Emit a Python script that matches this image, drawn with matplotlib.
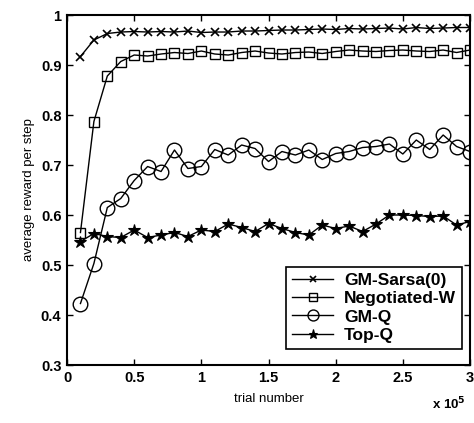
import numpy as np
import matplotlib
matplotlib.use('Agg')
import matplotlib.pyplot as plt; plt.ioff()

trials = np.arange(1, 31) * 10000

gm_sarsa = [
    0.917, 0.950, 0.963, 0.966, 0.967, 0.966, 0.967, 0.966, 0.968, 0.965,
    0.966, 0.966, 0.968, 0.968, 0.969, 0.970, 0.970, 0.971, 0.972, 0.971,
    0.973, 0.972, 0.973, 0.974, 0.972, 0.975, 0.973, 0.974, 0.975, 0.975]

negotiated_w = [
    0.565, 0.787, 0.878, 0.907, 0.920, 0.918, 0.922, 0.925, 0.923, 0.928,
    0.922, 0.920, 0.925, 0.928, 0.924, 0.922, 0.925, 0.926, 0.923, 0.927,
    0.930, 0.928, 0.927, 0.929, 0.930, 0.928, 0.927, 0.930, 0.925, 0.930]

gm_q = [
    0.423, 0.503, 0.615, 0.633, 0.669, 0.697, 0.687, 0.730, 0.693, 0.697,
    0.731, 0.720, 0.740, 0.733, 0.707, 0.727, 0.720, 0.730, 0.711, 0.723,
    0.727, 0.735, 0.737, 0.742, 0.722, 0.750, 0.731, 0.760, 0.737, 0.727]

top_q = [
    0.547, 0.563, 0.557, 0.555, 0.570, 0.555, 0.560, 0.565, 0.557, 0.570,
    0.567, 0.582, 0.575, 0.567, 0.583, 0.573, 0.565, 0.560, 0.580, 0.573,
    0.578, 0.567, 0.582, 0.600, 0.600, 0.599, 0.597, 0.598, 0.580, 0.587]

series_labels = ['GM-Sarsa(0)', 'Negotiated-W', 'GM-Q', 'Top-Q']

x_ticks = [0, 50000, 100000, 150000, 200000, 250000, 300000]
x_tick_labels = ['0', '0.5', '1', '1.5', '2', '2.5', '3']
y_ticks = [0.3, 0.4, 0.5, 0.6, 0.7, 0.8, 0.9, 1.0]
y_tick_labels = ['0.3', '0.4', '0.5', '0.6', '0.7', '0.8', '0.9', '1']


def main():

    plt.rcParams['font.family'] = ['Liberation Sans', 'DejaVu Sans']
    plt.rcParams['font.weight'] = 'bold'

    fig = plt.figure(figsize=(4.74, 4.23), dpi=100)
    ax = fig.add_axes([0.1414, 0.1371, 0.8502, 0.8274])

    styles = [
        dict(marker='x', ms=6, mew=1.2),
        dict(marker='s', ms=7.5, mew=1.0, mfc='none'),
        dict(marker='o', ms=10.5, mew=1.0, mfc='none'),
        dict(marker='*', ms=9, mew=0.8),
    ]

    for vals, lab, sty in zip(
            [gm_sarsa, negotiated_w, gm_q, top_q], series_labels, styles):
        ax.plot(trials, vals, c='k', lw=1.0, mec='k', label=lab, **sty)

    ax.set_xlim(0, 300000)
    ax.set_ylim(0.3, 1.0)

    ax.set_xticks(x_ticks)
    ax.set_xticklabels(x_tick_labels)
    ax.set_yticks(y_ticks)
    ax.set_yticklabels(y_tick_labels)

    ax.tick_params(
        direction='in', top=True, right=True, length=4, width=1.0,
        labelsize=10.5, pad=4)

    for spine in ax.spines.values():
        spine.set_linewidth(1.5)

    ax.set_xlabel('trial number', fontsize=9.5, labelpad=6)
    ax.set_ylabel('average reward per step', fontsize=9.5, labelpad=4)

    fig.text(0.912, 0.025, r'x 10$^{5}$', fontsize=9.5, ha='left', va='bottom')

    leg = ax.legend(
        loc='lower right', bbox_to_anchor=(0.98, 0.046), borderaxespad=0,
        fontsize=12.5, frameon=True, fancybox=False, edgecolor='k',
        framealpha=1, handlelength=2.4, borderpad=0.35, labelspacing=0.18,
        handletextpad=0.6, markerscale=0.75)
    leg.get_frame().set_linewidth(1.2)

    fig.savefig('out.png', dpi=100)
    plt.close(fig)

    return


if __name__ == '__main__':
    main()
